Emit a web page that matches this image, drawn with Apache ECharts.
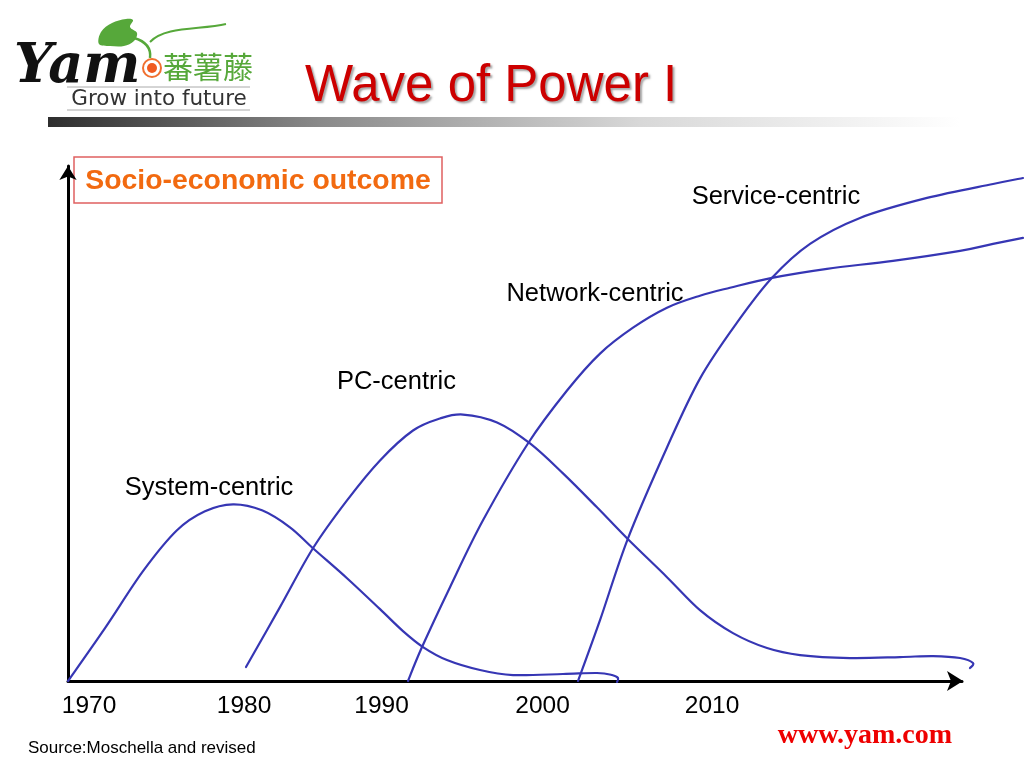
<!DOCTYPE html>
<html>
<head>
<meta charset="utf-8">
<script src="https://cdn.jsdelivr.net/npm/echarts@6/dist/echarts.min.js"></script>
<style>html,body{margin:0;padding:0;background:#fff;}#c{width:1024px;height:768px;}</style>
</head>
<body>
<div id="c"></div>
<script>
// x: time position along the axis (0 = origin, 100 = arrow tip); y: socio-economic outcome (0..100)
var systemCentric = [[0,0],[4.14,10.27],[8.39,21.32],[12.19,29.26],[15.32,32.95],[18.46,34.30],[21.70,33.14],[24.83,29.84],[27.40,25.78],[31.21,19.96],[34.90,13.95],[37.47,9.69],[39.71,6.59],[42.39,4.07],[46.09,2.13],[49.78,1.16],[55.37,1.36],[59.17,1.55],[60.85,1.16],[61.52,0.58],[61.41,-0.19]];
var pcCentric = [[19.91,2.71],[23.71,14.34],[27.40,25.78],[31.21,35.08],[34.90,42.83],[38.59,48.64],[41.61,50.97],[44.18,51.74],[47.99,50.19],[51.68,46.12],[55.37,40.31],[59.17,33.72],[62.64,27.52],[67.00,20.16],[70.69,13.76],[74.38,9.30],[78.19,6.40],[81.88,5.04],[87.47,4.46],[93.06,4.65],[96.76,4.84],[99.78,4.46],[101.23,3.49],[100.89,2.52]];
var networkCentric = [[38.03,0],[39.60,6.59],[42.73,18.22],[46.42,31.20],[51.45,46.12],[55.82,56.40],[59.51,63.57],[63.20,68.60],[67.00,72.48],[70.69,74.81],[74.05,76.36],[78.75,78.29],[84.90,80.04],[92.28,81.59],[99.78,83.53],[103.47,84.88],[106.82,86.05]];
var serviceCentric = [[57.05,0],[59.51,11.82],[62.64,27.71],[67.00,45.35],[70.69,58.72],[74.83,69.57],[78.75,78.29],[83.00,84.88],[88.59,89.92],[96.09,93.80],[103.47,96.51],[106.82,97.67]];
var seriesNames = ['System-centric','PC-centric','Network-centric','Service-centric'];
var seriesLabelPos = [[15.77,37.40],[36.74,58.14],[58.95,75.19],[79.19,93.99]];
var yearLabels = ['1970','1980','1990','2000','2010'];
var yearPositions = [2.35,19.69,35.07,53.08,72.04];

var chart = echarts.init(document.getElementById('c'), null, {renderer:'canvas'});
var lineColor = '#3636b4';
var unitsPerPx = 100 / 894;            // axis 0..100 spans the arrowed axis length
var plotMaxX = 100 + 62 * unitsPerPx;  // curves run on to the page edge
var curves = [systemCentric, pcCentric, networkCentric, serviceCentric];

// Catmull-Rom spline through the projected points, emitted as cubic bezier path
function splinePath(pts){
  var n = pts.length, s = 'M' + pts[0][0].toFixed(2) + ',' + pts[0][1].toFixed(2);
  for (var i = 0; i < n - 1; i++){
    var p0 = pts[i > 0 ? i - 1 : i], p1 = pts[i], p2 = pts[i + 1], p3 = pts[i + 2 < n ? i + 2 : i + 1];
    var c1x = p1[0] + (p2[0] - p0[0]) / 6, c1y = p1[1] + (p2[1] - p0[1]) / 6;
    var c2x = p2[0] - (p3[0] - p1[0]) / 6, c2y = p2[1] - (p3[1] - p1[1]) / 6;
    s += ' C' + c1x.toFixed(2) + ',' + c1y.toFixed(2) + ' ' + c2x.toFixed(2) + ',' + c2y.toFixed(2) + ' ' + p2[0].toFixed(2) + ',' + p2[1].toFixed(2);
  }
  return s;
}
function makeCurveSeries(d, name){
  return {
    name:name, type:'custom', xAxisIndex:0, yAxisIndex:0, data:d, silent:true, z:3, clip:false,
    encode:{x:0, y:1},
    renderItem:function(params, api){
      if (params.dataIndex !== 0) return null;
      var pts = d.map(function(p){ return api.coord(p); });
      return {type:'path', shape:{pathData:splinePath(pts)}, style:{fill:null, stroke:lineColor, lineWidth:2.2, lineJoin:'round', lineCap:'round'}};
    }
  };
}
var series = curves.map(function(d, i){ return makeCurveSeries(d, seriesNames[i]); });
series.push({type:'custom', xAxisIndex:0, yAxisIndex:0, silent:true, clip:false, z:4,
  data: seriesNames.map(function(n,i){return [seriesLabelPos[i][0], seriesLabelPos[i][1], i];}),
  encode:{x:0, y:1},
  renderItem:function(params, api){
    var c = api.coord([api.value(0), api.value(1)]);
    return {type:'text', style:{text:seriesNames[api.value(2)], x:c[0], y:c[1], fill:'#000', font:'25.5px "Liberation Sans", Arial, sans-serif', textAlign:'center', textVerticalAlign:'middle', align:'center', verticalAlign:'middle'}};
  }
});

var option = {
  animation:false,
  backgroundColor:'#fff',
  grid:[
    {left:68, right:0, top:166, bottom:87, containLabel:false},
    {left:68, right:62, top:166, bottom:87, containLabel:false}
  ],
  xAxis:[
    {type:'value', gridIndex:0, min:0, max:plotMaxX, show:false},
    {type:'value', gridIndex:1, min:0, max:100,
      axisLine:{show:true, lineStyle:{color:'#000', width:3}, symbol:['none','arrow'], symbolSize:[15,16], symbolOffset:[0,1]},
      axisTick:{show:false}, splitLine:{show:false},
      axisLabel:{show:true, customValues:yearPositions, margin:13, color:'#000', fontSize:24.5, fontFamily:'Liberation Sans, Arial, sans-serif',
        formatter:function(v){ var k = -1; for(var j=0;j<yearPositions.length;j++){ if(Math.abs(yearPositions[j]-v)<1e-6) k=j; } return k>=0 ? yearLabels[k] : ''; }}
    }
  ],
  yAxis:[
    {type:'value', gridIndex:0, min:0, max:100,
      axisLine:{show:true, lineStyle:{color:'#000', width:3}, symbol:['none','arrow'], symbolSize:[13,14], symbolOffset:[0,0]},
      axisTick:{show:false}, splitLine:{show:false}, axisLabel:{show:false}
    },
    {type:'value', gridIndex:1, min:0, max:100, show:false}
  ],
  graphic:[
    {type:'rect', shape:{x:48, y:117, width:912, height:10}, style:{fill:new echarts.graphic.LinearGradient(0,0,1,0,[{offset:0,color:'#2e2e2e'},{offset:0.3,color:'#8a8a8a'},{offset:0.65,color:'#d8d8d8'},{offset:1,color:'#ffffff'}])}, silent:true},
    {type:'text', style:{text:'Wave of Power I', x:305, y:87, font:'51px "Liberation Sans", Arial, sans-serif', fill:'#cc0000', textAlign:'left', textVerticalAlign:'middle', align:'left', verticalAlign:'middle', textShadowColor:'rgba(0,0,0,0.35)', textShadowOffsetX:2, textShadowOffsetY:2, textShadowBlur:2}, silent:true},
    {type:'rect', shape:{x:74, y:157, width:368, height:46}, style:{fill:'#fff', stroke:'#e06060', lineWidth:1.5}, silent:true},
    {type:'text', style:{text:'Socio-economic outcome', x:258, y:181, font:'bold 28.4px "Liberation Sans", Arial, sans-serif', fill:'#f26a10', textAlign:'center', textVerticalAlign:'middle', align:'center', verticalAlign:'middle'}, silent:true},
    {type:'text', style:{text:'Source:Moschella and revised', x:28, y:748, font:'17px "Liberation Sans", Arial, sans-serif', fill:'#000', textAlign:'left', textVerticalAlign:'middle', align:'left', verticalAlign:'middle'}, silent:true},
    {type:'text', style:{text:'www.yam.com', x:952, y:736, font:'bold 28px "Liberation Serif", "Times New Roman", serif', fill:'#ee0000', textAlign:'right', textVerticalAlign:'middle', align:'right', verticalAlign:'middle'}, silent:true},
    // logo leaf, stem, tendril
    {type:'polygon', shape:{points:[[99,44],[101,32],[112,23],[126,19],[133,20],[130,27],[137,33],[134,41],[124,46],[110,46]], smooth:0.35}, style:{fill:'#56a83a'}, silent:true},
    {type:'bezierCurve', shape:{x1:134, y1:38, cpx1:148, cpy1:42, cpx2:151, cpy2:50, x2:150, y2:58}, style:{fill:null, stroke:'#56a83a', lineWidth:2.5}, silent:true},
    {type:'bezierCurve', shape:{x1:150, y1:42, cpx1:165, cpy1:26, cpx2:200, cpy2:30, x2:226, y2:24}, style:{fill:null, stroke:'#56a83a', lineWidth:2}, silent:true},
    {type:'text', style:{text:'Yam', x:14, y:68, font:'italic bold 54px "DejaVu Serif", serif', fill:'#111', textAlign:'left', textVerticalAlign:'middle', align:'left', verticalAlign:'middle'}, silent:true},
    {type:'circle', shape:{cx:152, cy:68, r:9}, style:{fill:'#fff', stroke:'#f07030', lineWidth:2}, silent:true},
    {type:'circle', shape:{cx:152, cy:68, r:5}, style:{fill:'#f05a20'}, silent:true},
    {type:'text', style:{text:'蕃薯藤', x:163, y:67, font:'30px "Noto Sans CJK TC", "Noto Sans CJK SC", sans-serif', fill:'#56a83a', textAlign:'left', textVerticalAlign:'middle', align:'left', verticalAlign:'middle'}, silent:true},
    {type:'line', shape:{x1:67, y1:87, x2:250, y2:87}, style:{stroke:'#aaa', lineWidth:1}, silent:true},
    {type:'line', shape:{x1:67, y1:110, x2:250, y2:110}, style:{stroke:'#aaa', lineWidth:1}, silent:true},
    {type:'text', style:{text:'Grow into future', x:159, y:99, font:'21.5px "DejaVu Sans", sans-serif', fill:'#333', textAlign:'center', textVerticalAlign:'middle', align:'center', verticalAlign:'middle'}, silent:true}
  ],
  series:series
};
chart.setOption(option);
</script>
</body>
</html>
